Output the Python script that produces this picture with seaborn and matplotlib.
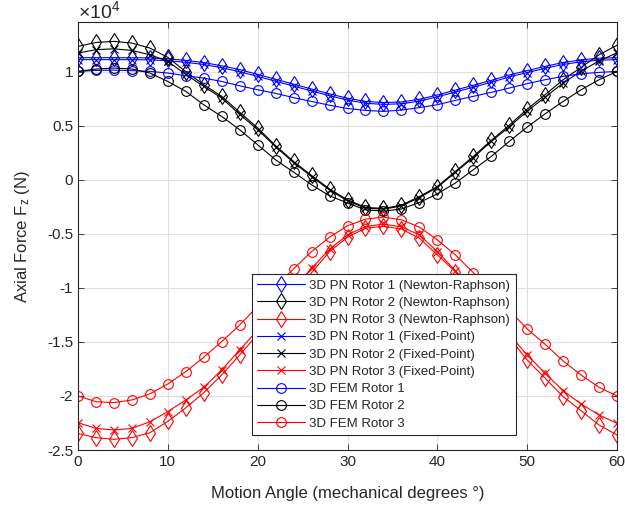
import numpy as np
import pandas as pd
import seaborn as sns
from matplotlib import pyplot as plt
from matplotlib.ticker import FuncFormatter

# Motion angle (mechanical degrees), one marker every 2 degrees
angle = list(range(0, 61, 2))

# Axial force values, in units of 1e4 N
pn_nr_r1 = [1.13, 1.13, 1.13, 1.13, 1.128, 1.12, 1.105, 1.085, 1.055, 1.02, 0.975,
            0.93, 0.885, 0.84, 0.795, 0.755, 0.725, 0.715, 0.72, 0.745, 0.785,
            0.83, 0.875, 0.92, 0.97, 1.01, 1.05, 1.085, 1.11, 1.125, 1.13]
pn_nr_r2 = [1.234, 1.271, 1.281, 1.265, 1.219, 1.133, 1.0, 0.88, 0.772, 0.625, 0.48,
            0.315, 0.17, 0.04, -0.085, -0.185, -0.255, -0.265, -0.235, -0.155, -0.062,
            0.077, 0.216, 0.365, 0.505, 0.654, 0.787, 0.926, 1.04, 1.157, 1.245]
pn_nr_r3 = [-2.346, -2.386, -2.401, -2.386, -2.34, -2.235, -2.11, -1.969, -1.806, -1.62, -1.43,
            -1.24, -1.05, -0.86, -0.664, -0.531, -0.448, -0.43, -0.455, -0.54, -0.694,
            -0.849, -1.05, -1.26, -1.46, -1.667, -1.836, -2.006, -2.136, -2.269, -2.361]

pn_fp_r1 = [1.112, 1.112, 1.112, 1.112, 1.11, 1.102, 1.087, 1.067, 1.037, 1.0, 0.957,
            0.912, 0.867, 0.822, 0.778, 0.738, 0.708, 0.698, 0.703, 0.728, 0.768,
            0.812, 0.857, 0.902, 0.952, 0.992, 1.032, 1.067, 1.092, 1.107, 1.112]
pn_fp_r2 = [1.173, 1.204, 1.212, 1.197, 1.157, 1.096, 0.975, 0.864, 0.756, 0.605, 0.465,
            0.305, 0.16, 0.03, -0.095, -0.195, -0.262, -0.272, -0.242, -0.165, -0.07,
            0.068, 0.205, 0.355, 0.49, 0.635, 0.765, 0.895, 1.005, 1.10, 1.175]
pn_fp_r3 = [-2.247, -2.30, -2.315, -2.30, -2.238, -2.145, -2.037, -1.92, -1.759, -1.574, -1.39,
            -1.20, -1.01, -0.818, -0.642, -0.509, -0.432, -0.41, -0.435, -0.509, -0.664,
            -0.84, -1.03, -1.23, -1.43, -1.62, -1.79, -1.951, -2.074, -2.176, -2.253]

fem_r1 = [1.003, 1.012, 1.015, 1.01, 1.003, 0.988, 0.963, 0.941, 0.91, 0.87, 0.833,
          0.80, 0.76, 0.725, 0.69, 0.66, 0.642, 0.633, 0.645, 0.668, 0.695,
          0.735, 0.772, 0.809, 0.849, 0.89, 0.926, 0.957, 0.981, 0.994, 1.003]
fem_r2 = [1.003, 1.025, 1.034, 1.025, 0.988, 0.91, 0.818, 0.694, 0.586, 0.463, 0.324,
          0.185, 0.071, -0.046, -0.148, -0.215, -0.278, -0.29, -0.27, -0.21, -0.13,
          -0.03, 0.093, 0.216, 0.355, 0.488, 0.611, 0.725, 0.833, 0.926, 1.003]
fem_r3 = [-2.0, -2.053, -2.062, -2.037, -1.981, -1.889, -1.775, -1.642, -1.497, -1.343, -1.17,
          -0.99, -0.824, -0.664, -0.531, -0.426, -0.364, -0.345, -0.37, -0.438, -0.556,
          -0.694, -0.858, -1.03, -1.205, -1.38, -1.522, -1.676, -1.806, -1.92, -2.0]

series = [
    ('3D PN Rotor 1 (Newton-Raphson)', pn_nr_r1, 'blue', 'd'),
    ('3D PN Rotor 2 (Newton-Raphson)', pn_nr_r2, 'black', 'd'),
    ('3D PN Rotor 3 (Newton-Raphson)', pn_nr_r3, 'red', 'd'),
    ('3D PN Rotor 1 (Fixed-Point)', pn_fp_r1, 'blue', 'x'),
    ('3D PN Rotor 2 (Fixed-Point)', pn_fp_r2, 'black', 'x'),
    ('3D PN Rotor 3 (Fixed-Point)', pn_fp_r3, 'red', 'x'),
    ('3D FEM Rotor 1', fem_r1, 'blue', 'o'),
    ('3D FEM Rotor 2', fem_r2, 'black', 'o'),
    ('3D FEM Rotor 3', fem_r3, 'red', 'o'),
]

sns.set_theme(style='ticks')
plt.rcParams['font.family'] = ['Liberation Sans', 'DejaVu Sans']
plt.rcParams['axes.unicode_minus'] = False
plt.rcParams['mathtext.default'] = 'regular'

grey = '#262626'
fig = plt.figure(figsize=(6.25, 5.05), dpi=100)
ax = fig.add_axes([0.1248, 0.1089, 0.8624, 0.8475])

for name, vals, col, mk in series:
    df = pd.DataFrame({'angle': angle, 'force': np.array(vals) * 1e4})
    size = 7 if mk == 'o' else (8 if mk == 'd' else 6)
    sns.lineplot(data=df, x='angle', y='force', ax=ax, color=col, marker=mk,
                 markersize=size, markerfacecolor='none', markeredgecolor=col,
                 markeredgewidth=0.8, linewidth=0.8, label=name)

ax.set_xlim(0, 60)
ax.set_ylim(-2.5e4, 1.46e4)
ax.set_xticks(range(0, 61, 10))
ax.set_yticks(np.arange(-2.5e4, 1.01e4, 0.5e4))
ax.yaxis.set_major_formatter(FuncFormatter(lambda v, p: '%g' % (v / 1e4)))
ax.grid(True, color='#e0e0e0', linewidth=0.8)
ax.tick_params(direction='in', top=True, right=True, labelsize=11,
               colors=grey, length=4, width=0.6)
for s in ax.spines.values():
    s.set_color(grey)
    s.set_linewidth(0.8)

ax.set_xlabel('Motion Angle (mechanical degrees °)', fontsize=12, color=grey,
              labelpad=12)
ax.set_ylabel('Axial Force F$_z$ (N)', fontsize=12, color=grey, labelpad=11)
ax.text(0.0, 1.0, r'$\times$10$^4$', transform=ax.transAxes, ha='left',
        va='bottom', fontsize=14, color=grey)

leg = ax.legend(loc='lower left', bbox_to_anchor=(0.323, 0.035), borderaxespad=0,
                fontsize=9.5, handlelength=3.6, handletextpad=0.35,
                labelspacing=0.38, fancybox=False, framealpha=1, edgecolor=grey)
leg.get_frame().set_linewidth(0.8)

fig.savefig('out.png', dpi=100)
